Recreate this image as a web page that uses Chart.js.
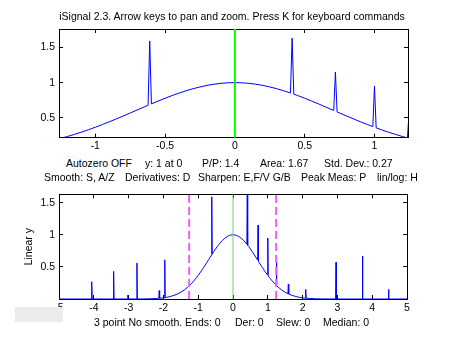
<!DOCTYPE html>
<html>
<head>
<meta charset="utf-8">
<script src="https://cdn.jsdelivr.net/npm/chart.js@4.4.0/dist/chart.umd.min.js"></script>
<style>
  body { margin: 0; background: #fff; width: 450px; height: 338px; overflow: hidden; position: relative;
         font-family: "Liberation Sans", Arial, sans-serif; }
  canvas { position: absolute; left: 0; }
  .info { position: absolute; font-size: 10.5px; line-height: 14px; white-space: pre; color: #000; }
  #title { width: 440px; text-align: center; }
  #btn { position: absolute; left: 15px; top: 307px; width: 48px; height: 15px; background: #ebebeb; }
</style>
</head>
<body>
<canvas id="chartTop" width="450" height="152" style="top:0"></canvas>
<canvas id="chartBottom" width="450" height="158" style="top:180px"></canvas>
<div class="info" id="title" style="left:12px; top:9px"></div>
<div id="texts"></div>
<div id="btn"></div>
<script>
// signal (x, y); spikes sit on a gaussian bump
const sigX = [
  -5, -4.072, -4.06, -4.048, -3.442, -3.43, -3.418, -3.032, -3.02, -3.008,
  -2.772, -2.76, -2.748, -2.6, -2.4, -2.2, -2.132, -2.12, -2.108, -1.972, -1.96, -1.948,
  -1.9, -1.8, -1.7, -1.6, -1.5, -1.4, -1.3, -1.25, -1.2, -1.15, -1.1, -1.05, -1.0,
  -0.95, -0.9, -0.85, -0.8, -0.75, -0.7, -0.65, -0.622, -0.61, -0.598,
  -0.55, -0.5, -0.45, -0.4, -0.35, -0.3, -0.25, -0.2, -0.15, -0.1, -0.05, 0,
  0.05, 0.1, 0.15, 0.2, 0.25, 0.3, 0.35, 0.398, 0.41, 0.422,
  0.45, 0.5, 0.55, 0.6, 0.65, 0.708, 0.72, 0.732,
  0.75, 0.8, 0.85, 0.9, 0.95, 0.988, 1.0, 1.012,
  1.05, 1.1, 1.15, 1.2, 1.236, 1.248, 1.26,
  1.3, 1.4, 1.5, 1.578, 1.59, 1.602,
  1.7, 1.8, 1.9, 2.0, 2.078, 2.09, 2.102,
  2.2, 2.4, 2.6, 2.948, 2.96, 2.972, 3.708, 3.72, 3.732, 4.458, 4.47, 4.482, 5
];
const sigY = [
  0, 0, 0.27, 0, 0, 0.43, 0, 0, 0.06, 0,
  0, 0.56, 0, 0.001, 0.003, 0.008, 0.011, 0.13, 0.012, 0.020, 0.61, 0.022,
  0.027, 0.039, 0.056, 0.077, 0.105, 0.141, 0.185, 0.210, 0.237, 0.267, 0.298, 0.332, 0.368,
  0.406, 0.445, 0.486, 0.527, 0.570, 0.613, 0.655, 0.679, 1.59, 0.699,
  0.739, 0.779, 0.817, 0.852, 0.885, 0.914, 0.939, 0.961, 0.978, 0.990, 0.998, 1,
  0.998, 0.990, 0.978, 0.961, 0.939, 0.914, 0.885, 0.853, 1.63, 0.837,
  0.817, 0.779, 0.739, 0.698, 0.655, 0.606, 1.15, 0.585,
  0.570, 0.527, 0.486, 0.445, 0.406, 0.377, 0.95, 0.359,
  0.332, 0.298, 0.267, 0.237, 0.217, 0.58, 0.204,
  0.185, 0.141, 0.105, 0.083, 0.23, 0.077,
  0.056, 0.039, 0.027, 0.018, 0.013, 0.15, 0.012,
  0.008, 0.003, 0.001, 0, 0.57, 0, 0, 0.67, 0, 0, 0.15, 0, 0
];

const cursorX = 0;
const zoomLeft = -1.26;
const zoomRight = 1.24;
const topYMin = 0.22;
const topYMax = 1.76;
const bottomXMin = -5;
const bottomXMax = 5;
const bottomYMax = 1.63;

const topXTicks = [-1, -0.5, 0, 0.5, 1];
const topYTicks = [0.5, 1, 1.5];
const bottomXTicks = [-5, -4, -3, -2, -1, 0, 1, 2, 3, 4, 5];
const bottomYTicks = [0.5, 1, 1.5];

const titleText = 'iSignal 2.3. Arrow keys to pan and zoom. Press K for keyboard commands';
const infoLine1 = ['Autozero OFF', 'y: 1 at 0', 'P/P: 1.4', 'Area: 1.67', 'Std. Dev.: 0.27'];
const infoLine2 = ['Smooth: S, A/Z', 'Derivatives: D', 'Sharpen: E,F/V G/B', 'Peak Meas: P', 'lin/log: H'];
const statusLine = ['3 point No smooth. Ends: 0', 'Der: 0', 'Slew: 0', 'Median: 0'];

// where each text group starts (px)
const line1Left = [66, 145, 202, 260, 324];
const line2Left = [44, 125, 198, 301, 377];
const statusLeft = [94, 235, 276, 323];

document.getElementById('title').textContent = titleText;

var placeTexts = (items, lefts, top) => {
  for (let i = 0; i < items.length; i++) {
    const el = document.createElement('div');
    el.className = 'info';
    el.style.left = lefts[i] + 'px';
    el.style.top = top + 'px';
    el.textContent = items[i];
    document.getElementById('texts').appendChild(el);
  }
};
placeTexts(infoLine1, line1Left, 156);
placeTexts(infoLine2, line2Left, 170);
placeTexts(statusLine, statusLeft, 315);

Chart.defaults.font.family = '"Liberation Sans", Arial, sans-serif';
Chart.defaults.font.size = 10.5;
Chart.defaults.color = '#000';

const signal = sigX.map((x, i) => ({ x: x, y: sigY[i] }));

// matlab-like box axis: ticks pointing inwards, no grid
var boxAxis = (position, min, max, tickList, size, showLabels, pad) => {
  return {
    type: 'linear',
    position: position,
    min: min,
    max: max,
    afterBuildTicks: (s) => { s.ticks = tickList.map((v) => ({ value: v })); },
    afterFit: (s) => {
      if (position === 'left' || position === 'right') s.width = size;
      else s.height = size;
    },
    ticks: {
      display: showLabels,
      autoSkip: false,
      maxRotation: 0,
      padding: pad,
      callback: (v) => String(v),
    },
    grid: { display: true, drawOnChartArea: false, drawTicks: true, tickLength: -4, color: '#000' },
    border: { display: true, color: '#000', width: 1 },
  };
};

var lineSet = (data, color, width, dash) => ({
  data: data,
  showLine: true,
  borderColor: color,
  borderWidth: width,
  borderDash: dash || [],
  pointRadius: 0,
});

new Chart(document.getElementById('chartTop'), {
  type: 'scatter',
  data: {
    datasets: [
      lineSet([{ x: cursorX, y: topYMin }, { x: cursorX, y: topYMax }], '#00ff00', 2),
      lineSet(signal, '#0000ff', 1),
    ],
  },
  options: {
    animation: false,
    responsive: false,
    events: [],
    layout: { padding: { left: 0, right: 42, top: 29, bottom: 0 } },
    plugins: { legend: { display: false }, tooltip: { enabled: false } },
    scales: {
      x: boxAxis('bottom', zoomLeft, zoomRight, topXTicks, 14, true, 6),
      y: boxAxis('left', topYMin, topYMax, topYTicks, 59, true, 8),
      x2: boxAxis('top', zoomLeft, zoomRight, topXTicks, 0, false, 0),
      y2: boxAxis('right', topYMin, topYMax, topYTicks, 0, false, 0),
    },
  },
});

const yLeft = boxAxis('left', 0, bottomYMax, bottomYTicks, 59, true, 8);
yLeft.title = { display: true, text: 'Linear y', color: '#000', font: { size: 10.5 }, padding: { top: 23, bottom: 0 } };

new Chart(document.getElementById('chartBottom'), {
  type: 'scatter',
  data: {
    datasets: [
      lineSet([{ x: zoomLeft, y: 0 }, { x: zoomLeft, y: bottomYMax }], '#f060f0', 2, [8, 4]),
      lineSet([{ x: zoomRight, y: 0 }, { x: zoomRight, y: bottomYMax }], '#f060f0', 2, [8, 4]),
      lineSet([{ x: cursorX, y: 0 }, { x: cursorX, y: bottomYMax }], '#66d866', 1),
      lineSet(signal, '#0000ff', 1),
    ],
  },
  options: {
    animation: false,
    responsive: false,
    events: [],
    layout: { padding: { left: 0, right: 43, top: 8, bottom: 0 } },
    plugins: { legend: { display: false }, tooltip: { enabled: false } },
    scales: {
      x: boxAxis('bottom', bottomXMin, bottomXMax, bottomXTicks, 39, true, 7),
      y: yLeft,
      x2: boxAxis('top', bottomXMin, bottomXMax, bottomXTicks, 0, false, 0),
      y2: boxAxis('right', 0, bottomYMax, bottomYTicks, 0, false, 0),
    },
  },
});
</script>
</body>
</html>
